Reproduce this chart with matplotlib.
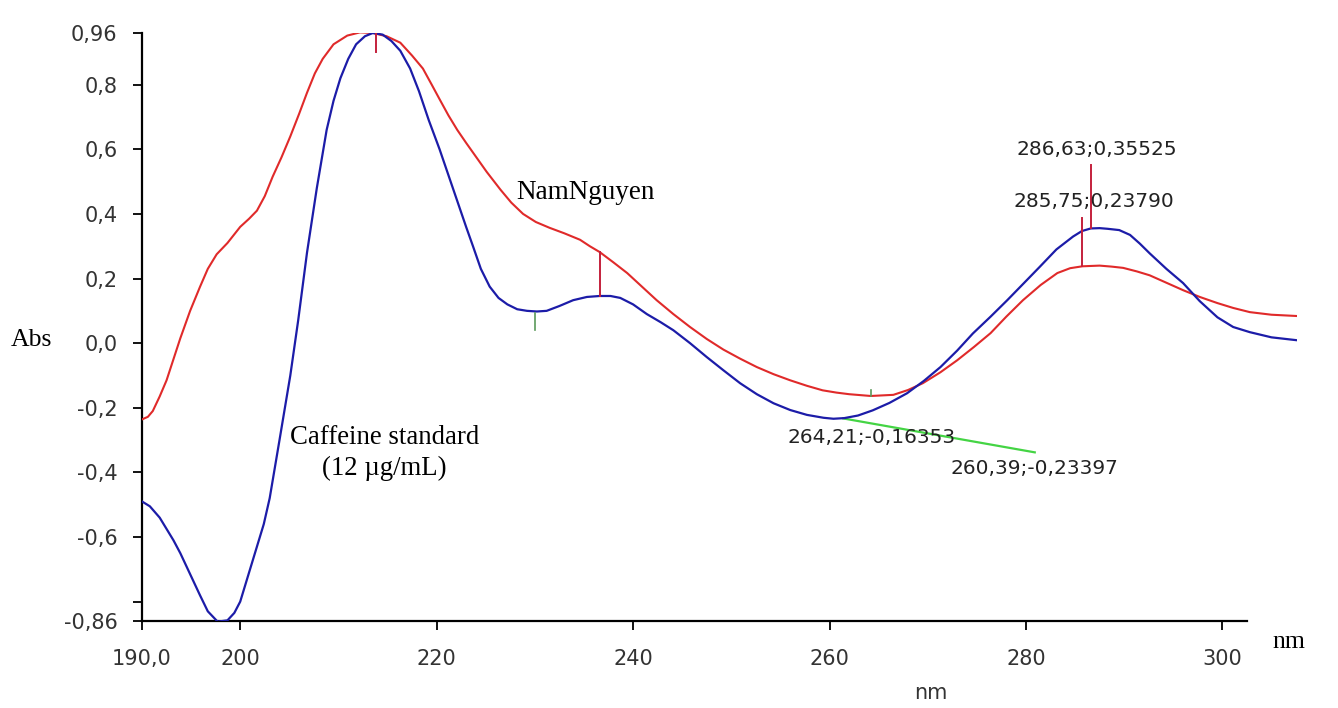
import matplotlib
matplotlib.use("Agg")
import matplotlib.pyplot as plt

# caffeine standard (12 ug/mL) - blue
std_nm = [190.0, 190.8, 191.8, 193.2, 193.9, 194.9, 195.9, 196.7, 197.7, 198.7,
          199.4, 200.0, 200.8, 201.7, 202.4, 203.0, 204.0, 205.1, 205.9, 206.8, 207.8,
          208.8, 209.5, 210.2, 211.0, 211.8, 212.7, 213.5, 214.5, 215.4, 216.3,
          217.3, 218.2, 219.2, 220.3, 221.2, 222.1, 223.0, 223.7, 224.5, 225.4,
          226.3, 227.2, 228.2, 229.2, 230.2, 231.2, 232.5, 233.9, 235.3, 236.6,
          237.7, 238.7, 240.0, 241.4, 242.8, 244.1, 245.8, 247.5, 249.2, 250.9,
          252.6, 254.3, 256.0, 257.7, 259.4, 260.4, 261.5, 262.9, 264.4, 266.1,
          267.9, 269.6, 271.3, 273.0, 274.6, 276.4, 278.1, 279.8, 281.4, 283.1,
          284.8, 285.7, 286.6, 287.5, 288.3, 289.5, 290.6, 291.6, 292.6, 294.3,
          296.0, 297.7, 299.5, 301.1, 302.8, 305.0, 307.6]
std_abs = [-0.49, -0.505, -0.54, -0.61, -0.65, -0.715, -0.78, -0.83, -0.862, -0.858,
           -0.835, -0.80, -0.72, -0.63, -0.56, -0.48, -0.30, -0.10, 0.07, 0.28, 0.48,
           0.66, 0.75, 0.82, 0.88, 0.925, 0.95, 0.96, 0.955, 0.935, 0.905,
           0.85, 0.78, 0.69, 0.60, 0.52, 0.44, 0.36, 0.30, 0.23, 0.175,
           0.14, 0.12, 0.105, 0.10, 0.098, 0.10, 0.115, 0.133, 0.143, 0.146,
           0.146, 0.14, 0.12, 0.09, 0.065, 0.04, 0.0, -0.043, -0.084, -0.124,
           -0.158, -0.186, -0.207, -0.222, -0.231, -0.234, -0.232, -0.224, -0.208, -0.185,
           -0.155, -0.117, -0.074, -0.023, 0.03, 0.082, 0.133, 0.186, 0.236, 0.29,
           0.33, 0.347, 0.355, 0.356, 0.354, 0.35, 0.335, 0.308, 0.278, 0.23,
           0.186, 0.13, 0.08, 0.05, 0.034, 0.018, 0.009]

# sample "NamNguyen" - red
smp_nm = [190.0, 190.6, 191.1, 191.8, 192.5, 193.2, 193.9, 194.9, 195.9, 196.7,
          197.6, 198.7, 200.0, 200.9, 201.7, 202.5, 203.3, 204.2, 205.1, 206.0,
          206.8, 207.6, 208.4, 209.5, 210.9, 212.2, 213.5, 214.9, 216.3, 217.5,
          218.6, 219.5, 220.3, 221.2, 222.1, 223.0, 223.7, 225.1, 226.5, 227.6,
          228.8, 230.1, 231.5, 233.0, 234.6, 235.6, 236.6, 238.0, 239.4, 240.9,
          242.4, 244.1, 245.8, 247.5, 249.2, 250.9, 252.6, 254.3, 256.0, 257.7,
          259.3, 260.7, 262.0, 264.2, 266.5, 268.0, 269.5, 271.3, 273.0, 274.7,
          276.4, 278.0, 279.7, 281.5, 283.2, 284.5, 285.75, 287.5, 288.7, 289.9,
          291.3, 292.6, 294.3, 296.0, 297.7, 299.5, 301.1, 302.8, 305.0, 307.6]
smp_abs = [-0.236, -0.228, -0.21, -0.165, -0.115, -0.05, 0.015, 0.10, 0.174, 0.23,
           0.275, 0.31, 0.36, 0.385, 0.41, 0.455, 0.515, 0.575, 0.64, 0.71,
           0.775, 0.835, 0.88, 0.925, 0.952, 0.962, 0.96, 0.95, 0.93, 0.89,
           0.85, 0.80, 0.755, 0.705, 0.66, 0.62, 0.59, 0.53, 0.475, 0.435,
           0.40, 0.375, 0.357, 0.34, 0.32, 0.30, 0.282, 0.25, 0.217, 0.175,
           0.133, 0.09, 0.05, 0.013, -0.02, -0.048, -0.074, -0.096, -0.115, -0.132,
           -0.146, -0.153, -0.158, -0.1635, -0.16, -0.145, -0.124, -0.09, -0.053, -0.012,
           0.031, 0.082, 0.133, 0.18, 0.217, 0.232, 0.2379, 0.24, 0.237, 0.233,
           0.222, 0.21, 0.187, 0.164, 0.143, 0.124, 0.109, 0.096, 0.088, 0.084]

# peak / valley markers: (x, y_from, y_to)
red_marks = [(213.8, 0.96, 0.90), (236.6, 0.282, 0.146),
             (285.75, 0.2379, 0.388), (286.63, 0.35525, 0.55)]
green_marks = [(230.0, 0.093, 0.04), (264.21, -0.1635, -0.145)]
green_leader_x = [261.4, 280.9]
green_leader_y = [-0.233, -0.338]

peak_labels = ["286,63;0,35525", "285,75;0,23790", "264,21;-0,16353", "260,39;-0,23397"]
peak_label_pos = [(287.25, 0.598), (286.9, 0.437), (264.3, -0.291), (280.9, -0.388)]

xticks = [190, 200, 220, 240, 260, 280, 300]
xtick_labels = ["190,0", "200", "220", "240", "260", "280", "300"]
yticks = [0.96, 0.8, 0.6, 0.4, 0.2, 0.0, -0.2, -0.4, -0.6, -0.8, -0.86]
ytick_labels = ["0,96", "0,8", "0,6", "0,4", "0,2", "0,0", "-0,2", "-0,4", "-0,6", "", "-0,86"]

blue = "#1c1ca8"
red = "#e02a2a"
mark_red = "#c4203c"
green = "#44d444"

fig = plt.figure(figsize=(13.38, 7.08), dpi=100)
ax = fig.add_axes([142 / 1338, 1 - 621 / 708, (1297 - 142) / 1338, (621 - 33) / 708])

ax.plot(smp_nm, smp_abs, color=red, lw=1.5, zorder=3)
ax.plot(std_nm, std_abs, color=blue, lw=1.6, zorder=4)

for x, y0, y1 in red_marks:
    ax.plot([x, x], [y0, y1], color=mark_red, lw=1.4, zorder=5)
for x, y0, y1 in green_marks:
    ax.plot([x, x], [y0, y1], color="#5a9a5a", lw=1.2, zorder=5)
ax.plot(green_leader_x, green_leader_y, color=green, lw=1.6, zorder=2)

for txt, (x, y) in zip(peak_labels, peak_label_pos):
    ax.text(x, y, txt, ha="center", va="center", fontsize=14.5,
            family="DejaVu Sans", color="#222222", zorder=6)

serif = "Liberation Serif"
ax.text(235.2, 0.465, "NamNguyen", ha="center", va="center", fontsize=19.5, family=serif)
ax.text(214.7, -0.339, "Caffeine standard\n(12 µg/mL)", ha="center", va="center",
        fontsize=19.3, family=serif, linespacing=1.3, multialignment="center")

fig.text(31 / 1338, 1 - 340 / 708, "Abs", ha="center", va="center", fontsize=18.5, family=serif)
fig.text(1289 / 1338, 1 - 642 / 708, "nm", ha="center", va="center", fontsize=18.5, family=serif)
fig.text(931 / 1338, 1 - 693 / 708, "nm", ha="center", va="center", fontsize=15,
         family="DejaVu Sans", color="#333333")

ax.set_xlim(190, 307.6)
ax.set_ylim(-0.86, 0.96)
ax.set_xticks(xticks)
ax.set_xticklabels(xtick_labels)
ax.set_yticks(yticks)
ax.set_yticklabels(ytick_labels)
ax.tick_params(direction="out", length=6.5, width=1.3, colors="black",
               labelcolor="#333333", labelsize=15)
ax.tick_params(axis="x", pad=14)
ax.tick_params(axis="y", pad=11)
for lab in ax.get_xticklabels() + ax.get_yticklabels():
    lab.set_family("DejaVu Sans")

for s in ["top", "right"]:
    ax.spines[s].set_visible(False)
for s in ["left", "bottom"]:
    ax.spines[s].set_linewidth(1.6)
ax.spines["bottom"].set_bounds(190, 302.5)
ax.patch.set_alpha(0)

fig.savefig("out.png", dpi=100)
